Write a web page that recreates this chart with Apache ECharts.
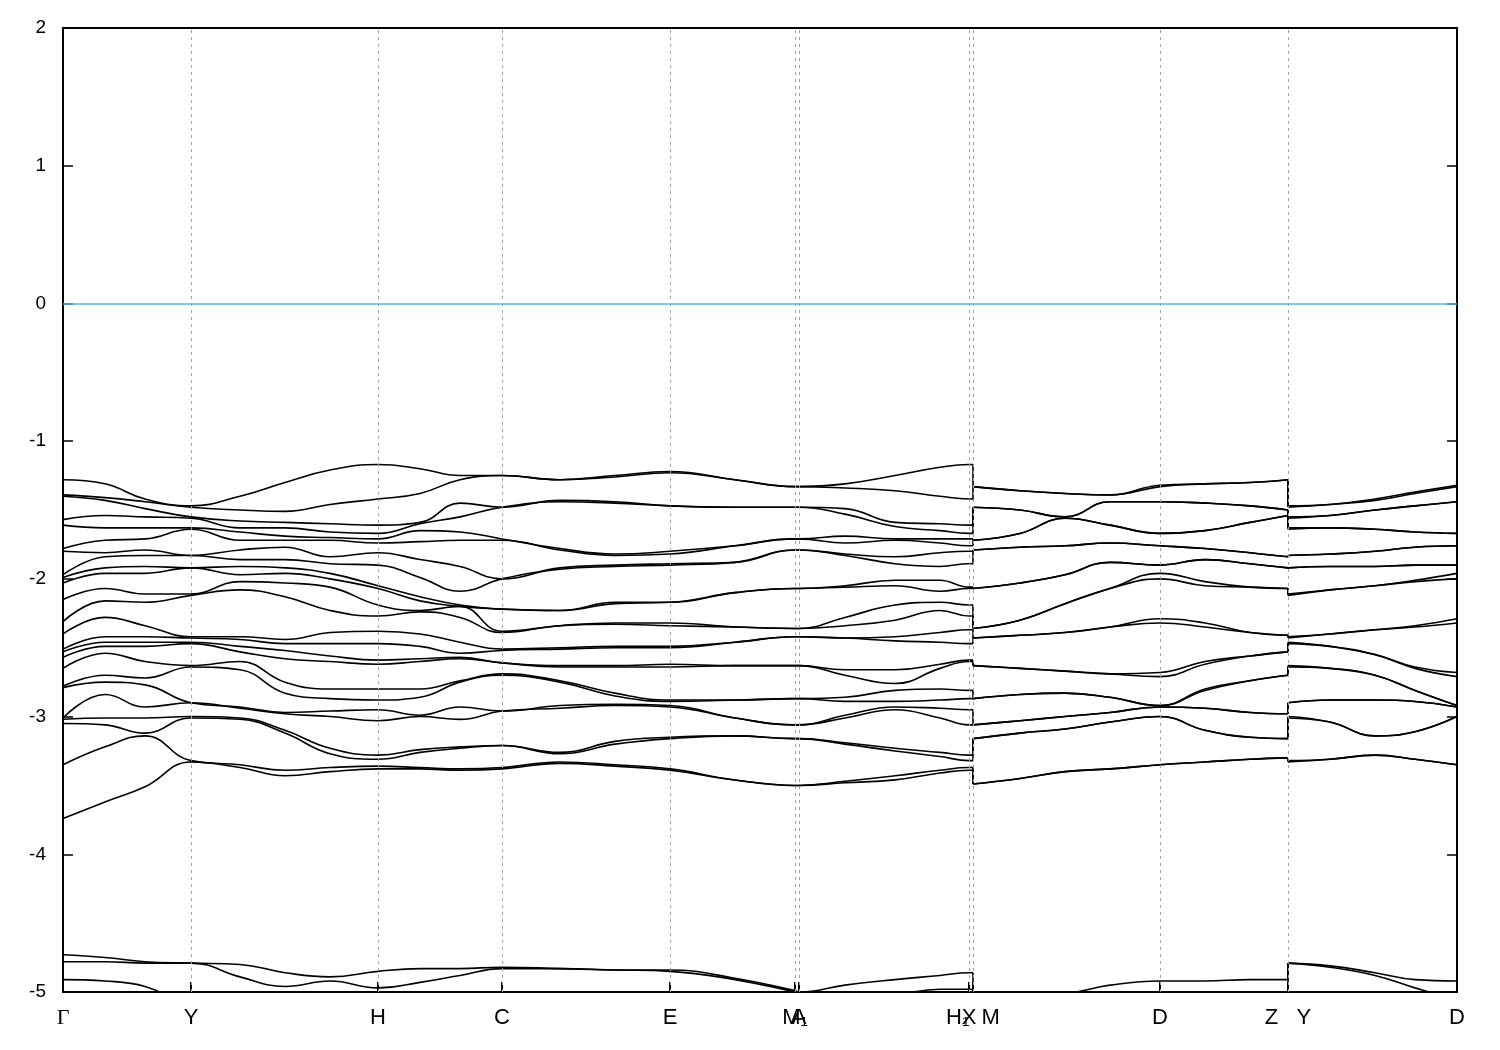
<!DOCTYPE html>
<html><head><meta charset="utf-8">
<script src="https://cdn.jsdelivr.net/npm/echarts@6/dist/echarts.min.js"></script>
<style>html,body{margin:0;padding:0;background:#fff}#chart{width:1500px;height:1050px}</style>
</head><body><div id="chart"></div>
<script>
// High-symmetry k-points (path distance) and their labels
const tickK = [0, 1.28, 3.15, 4.39, 6.07, 7.32, 7.36, 9.06, 9.10, 10.97, 12.25, 13.94];
const tickLabels = ['Γ', 'Y', 'H', 'C', 'E', 'M₁', 'A', 'X', 'H₁  M', 'D', 'Z   Y', 'D'];
const yTickValues = [2, 1, 0, -1, -2, -3, -4, -5];

// k sampling of the three continuous path segments
const kSeg1 = [0, 0.42, 0.82, 1.28, 1.77, 2.22, 2.67, 3.15, 3.57, 3.97, 4.39, 4.97, 5.52, 6.07, 6.72, 7.32, 7.36, 7.82, 8.32, 8.77, 9.06, 9.10];
const kSeg2 = [9.10, 9.57, 10.02, 10.47, 10.97, 11.42, 11.87, 12.25];
const kSeg3 = [12.25, 12.67, 13.12, 13.52, 13.94];

// Band energies (eV) at each sampled k (one array per k column)
const eGamma = [-1.28,-1.39,-1.40,-1.57,-1.61,-1.78,-1.80,-1.97,-1.99,-2.03,-2.15,-2.31,-2.40,-2.51,-2.53,-2.57,-2.65,-2.78,-2.79,-3.01,-3.02,-3.05,-3.35,-3.74,-4.73,-4.78,-4.91];
const eGY1 = [-1.31,-1.41,-1.43,-1.54,-1.63,-1.72,-1.81,-1.84,-1.92,-1.96,-2.07,-2.16,-2.28,-2.42,-2.46,-2.49,-2.54,-2.70,-2.75,-2.84,-3.01,-3.06,-3.22,-3.62,-4.75,-4.78,-4.92];
const eGY2 = [-1.42,-1.44,-1.49,-1.55,-1.63,-1.71,-1.79,-1.83,-1.91,-1.96,-2.11,-2.17,-2.34,-2.42,-2.46,-2.49,-2.60,-2.72,-2.77,-2.93,-3.01,-3.12,-3.14,-3.51,-4.78,-4.79,-4.96];
const eY = [-1.47,-1.48,-1.55,-1.56,-1.63,-1.64,-1.83,-1.83,-1.92,-1.92,-2.11,-2.12,-2.42,-2.43,-2.46,-2.47,-2.63,-2.64,-2.90,-2.90,-3.00,-3.01,-3.32,-3.33,-4.79,-4.79,-5.10];
const eYH1 = [-1.40,-1.50,-1.58,-1.63,-1.66,-1.72,-1.79,-1.86,-1.91,-1.97,-2.02,-2.08,-2.42,-2.44,-2.49,-2.53,-2.60,-2.66,-2.93,-2.94,-3.01,-3.02,-3.35,-3.37,-4.80,-4.89,-5.15];
const eYH2 = [-1.30,-1.51,-1.59,-1.63,-1.69,-1.72,-1.77,-1.86,-1.92,-1.96,-2.03,-2.13,-2.44,-2.47,-2.52,-2.58,-2.75,-2.83,-2.97,-2.98,-3.10,-3.12,-3.39,-3.43,-4.86,-4.96,-5.20];
const eYH3 = [-1.21,-1.46,-1.60,-1.66,-1.70,-1.72,-1.84,-1.89,-1.96,-2.00,-2.06,-2.23,-2.39,-2.47,-2.56,-2.60,-2.80,-2.87,-2.96,-3.00,-3.23,-3.27,-3.37,-3.40,-4.89,-4.92,-5.20];
const eH = [-1.17,-1.42,-1.61,-1.67,-1.71,-1.74,-1.81,-1.90,-2.05,-2.07,-2.19,-2.27,-2.38,-2.47,-2.59,-2.62,-2.80,-2.88,-2.95,-3.03,-3.28,-3.31,-3.36,-3.38,-4.85,-4.97,-5.20];
const eHC1 = [-1.20,-1.38,-1.59,-1.60,-1.65,-1.73,-1.86,-1.99,-2.13,-2.16,-2.23,-2.24,-2.40,-2.49,-2.58,-2.60,-2.80,-2.86,-2.99,-3.00,-3.24,-3.26,-3.37,-3.38,-4.83,-4.93,-5.20];
const eHC2 = [-1.25,-1.28,-1.45,-1.55,-1.66,-1.72,-1.91,-2.09,-2.19,-2.20,-2.20,-2.28,-2.46,-2.54,-2.57,-2.58,-2.74,-2.75,-2.93,-3.02,-3.22,-3.23,-3.38,-3.39,-4.83,-4.88,-5.20];
const eC = [-1.25,-1.25,-1.48,-1.48,-1.71,-1.72,-2.00,-2.00,-2.22,-2.22,-2.38,-2.39,-2.51,-2.52,-2.61,-2.61,-2.69,-2.70,-2.96,-2.96,-3.21,-3.21,-3.37,-3.38,-4.82,-4.83,-5.20];
const eCE1 = [-1.28,-1.28,-1.43,-1.44,-1.78,-1.79,-1.92,-1.93,-2.23,-2.23,-2.34,-2.34,-2.50,-2.51,-2.63,-2.64,-2.74,-2.75,-2.92,-2.94,-3.26,-3.27,-3.33,-3.34,-4.83,-4.83,-5.20];
const eCE2 = [-1.25,-1.26,-1.44,-1.45,-1.82,-1.83,-1.90,-1.91,-2.17,-2.18,-2.32,-2.33,-2.49,-2.50,-2.63,-2.64,-2.83,-2.85,-2.91,-2.92,-3.18,-3.20,-3.35,-3.36,-4.84,-4.84,-5.20];
const eE = [-1.22,-1.23,-1.47,-1.47,-1.80,-1.82,-1.89,-1.90,-2.17,-2.17,-2.32,-2.34,-2.49,-2.50,-2.62,-2.64,-2.88,-2.89,-2.92,-2.93,-3.15,-3.16,-3.38,-3.39,-4.84,-4.85,-5.20];
const eEM1 = [-1.28,-1.28,-1.48,-1.48,-1.76,-1.76,-1.88,-1.88,-2.10,-2.10,-2.35,-2.35,-2.46,-2.46,-2.63,-2.63,-2.88,-2.88,-3.01,-3.01,-3.14,-3.14,-3.46,-3.46,-4.90,-4.91,-5.20];
const eM1 = [-1.33,-1.33,-1.48,-1.48,-1.71,-1.71,-1.79,-1.79,-2.07,-2.07,-2.36,-2.36,-2.42,-2.42,-2.63,-2.63,-2.87,-2.87,-3.06,-3.06,-3.16,-3.16,-3.50,-3.50,-4.99,-5.00,-5.20];
const eA = [-1.33,-1.33,-1.48,-1.48,-1.71,-1.71,-1.79,-1.79,-2.07,-2.07,-2.36,-2.36,-2.42,-2.42,-2.63,-2.63,-2.87,-2.87,-3.06,-3.06,-3.16,-3.16,-3.50,-3.50,-5.00,-5.01,-5.20];
const eAX1 = [-1.31,-1.34,-1.49,-1.53,-1.69,-1.74,-1.82,-1.83,-2.05,-2.06,-2.28,-2.34,-2.43,-2.43,-2.66,-2.70,-2.86,-2.89,-2.99,-3.01,-3.19,-3.20,-3.47,-3.48,-4.95,-5.04,-5.20];
const eAX2 = [-1.25,-1.36,-1.59,-1.62,-1.71,-1.72,-1.84,-1.89,-2.01,-2.05,-2.19,-2.30,-2.42,-2.45,-2.66,-2.76,-2.81,-2.89,-2.93,-2.95,-3.23,-3.25,-3.43,-3.46,-4.91,-5.02,-5.20];
const eAX3 = [-1.19,-1.40,-1.60,-1.65,-1.71,-1.74,-1.81,-1.91,-2.01,-2.09,-2.17,-2.23,-2.39,-2.46,-2.62,-2.65,-2.80,-2.88,-2.94,-3.01,-3.26,-3.29,-3.39,-3.41,-4.88,-4.98,-5.20];
const eX = [-1.17,-1.42,-1.61,-1.67,-1.71,-1.76,-1.80,-1.89,-2.06,-2.07,-2.19,-2.27,-2.37,-2.47,-2.59,-2.60,-2.81,-2.87,-2.95,-3.06,-3.28,-3.32,-3.37,-3.39,-4.86,-4.98,-5.20];
const eH1 = [-1.17,-1.42,-1.61,-1.67,-1.71,-1.76,-1.80,-1.89,-2.06,-2.07,-2.19,-2.27,-2.37,-2.47,-2.59,-2.60,-2.81,-2.87,-2.95,-3.06,-3.28,-3.32,-3.37,-3.39,-4.86,-4.98,-5.20];

const eM = [-1.33,-1.33,-1.48,-1.48,-1.72,-1.72,-1.79,-1.79,-2.07,-2.07,-2.36,-2.36,-2.43,-2.43,-2.63,-2.63,-2.87,-2.87,-3.06,-3.06,-3.16,-3.16,-3.49,-3.49,-5.00,-5.05,-5.20];
const eMD1 = [-1.36,-1.36,-1.50,-1.50,-1.67,-1.67,-1.77,-1.77,-2.03,-2.03,-2.30,-2.30,-2.41,-2.41,-2.65,-2.65,-2.84,-2.84,-3.03,-3.03,-3.12,-3.12,-3.45,-3.45,-5.02,-5.08,-5.20];
const eMD2 = [-1.38,-1.38,-1.55,-1.55,-1.56,-1.56,-1.76,-1.76,-1.97,-1.97,-2.18,-2.18,-2.39,-2.39,-2.67,-2.67,-2.83,-2.83,-3.00,-3.00,-3.09,-3.09,-3.40,-3.40,-5.01,-5.08,-5.20];
const eMD3 = [-1.39,-1.39,-1.44,-1.44,-1.61,-1.61,-1.74,-1.74,-1.88,-1.88,-2.07,-2.07,-2.35,-2.35,-2.69,-2.69,-2.86,-2.86,-2.97,-2.97,-3.04,-3.04,-3.38,-3.38,-4.95,-5.08,-5.20];
const eD = [-1.32,-1.33,-1.44,-1.44,-1.67,-1.67,-1.76,-1.76,-1.90,-1.90,-1.96,-2.00,-2.29,-2.32,-2.68,-2.71,-2.92,-2.92,-2.93,-2.93,-3.00,-3.00,-3.35,-3.35,-4.92,-5.06,-5.20];
const eDZ1 = [-1.31,-1.31,-1.45,-1.45,-1.65,-1.65,-1.78,-1.78,-1.86,-1.86,-2.02,-2.05,-2.32,-2.35,-2.60,-2.62,-2.80,-2.81,-2.94,-2.94,-3.10,-3.10,-3.33,-3.33,-4.92,-5.05,-5.20];
const eDZ2 = [-1.30,-1.30,-1.47,-1.47,-1.59,-1.59,-1.81,-1.81,-1.89,-1.89,-2.06,-2.06,-2.39,-2.39,-2.56,-2.56,-2.74,-2.74,-2.97,-2.97,-3.15,-3.15,-3.31,-3.31,-4.91,-5.05,-5.20];
const eZ = [-1.28,-1.28,-1.50,-1.50,-1.54,-1.54,-1.84,-1.84,-1.92,-1.92,-2.07,-2.07,-2.41,-2.41,-2.53,-2.53,-2.70,-2.70,-2.98,-2.98,-3.16,-3.16,-3.30,-3.30,-4.91,-5.05,-5.20];

const eY2 = [-1.47,-1.48,-1.55,-1.56,-1.63,-1.64,-1.83,-1.83,-1.92,-1.92,-2.11,-2.12,-2.42,-2.43,-2.46,-2.47,-2.63,-2.64,-2.90,-2.90,-3.00,-3.01,-3.32,-3.33,-4.79,-4.79,-5.10];
const eYD1 = [-1.46,-1.46,-1.54,-1.54,-1.63,-1.63,-1.82,-1.82,-1.91,-1.91,-2.08,-2.08,-2.40,-2.40,-2.49,-2.49,-2.65,-2.65,-2.88,-2.88,-3.04,-3.04,-3.31,-3.31,-4.81,-4.82,-5.12];
const eYD2 = [-1.42,-1.43,-1.50,-1.50,-1.64,-1.64,-1.80,-1.80,-1.91,-1.91,-2.05,-2.05,-2.37,-2.37,-2.55,-2.55,-2.70,-2.70,-2.88,-2.88,-3.14,-3.14,-3.28,-3.28,-4.86,-4.88,-5.12];
const eYD3 = [-1.37,-1.38,-1.47,-1.47,-1.66,-1.66,-1.77,-1.77,-1.90,-1.90,-2.01,-2.02,-2.34,-2.35,-2.64,-2.65,-2.81,-2.81,-2.89,-2.89,-3.11,-3.11,-3.31,-3.31,-4.91,-4.97,-5.10];
const eD2 = [-1.32,-1.33,-1.44,-1.44,-1.67,-1.67,-1.76,-1.76,-1.90,-1.90,-1.96,-2.00,-2.29,-2.32,-2.68,-2.71,-2.92,-2.92,-2.93,-2.93,-3.00,-3.00,-3.35,-3.35,-4.92,-5.06,-5.20];

const fermiLevel = 0;

// ---- build chart ----
const seg1Cols = [eGamma, eGY1, eGY2, eY, eYH1, eYH2, eYH3, eH, eHC1, eHC2, eC, eCE1, eCE2, eE, eEM1, eM1, eA, eAX1, eAX2, eAX3, eX, eH1];
const seg2Cols = [eM, eMD1, eMD2, eMD3, eD, eDZ1, eDZ2, eZ];
const seg3Cols = [eY2, eYD1, eYD2, eYD3, eD2];
const srt = c => c.slice().sort((a, b) => a - b);
const segs = [[kSeg1, seg1Cols.map(srt)], [kSeg2, seg2Cols.map(srt)], [kSeg3, seg3Cols.map(srt)]];
const nBands = eGamma.length;

const lineStyle = { color: '#000', width: 1.6 };
const series = [];
// guide lines
series.push({
  type: 'line', data: [], silent: true, animation: false, z: 1,
  markLine: {
    silent: true, symbol: 'none', animation: false,
    label: { show: false },
    data: tickK.filter((k, i) => i > 0 && i < tickK.length - 1).map(k => ({ xAxis: k, lineStyle: { color: '#a0a0a0', type: [3, 4], width: 1 } }))
      .concat([{ yAxis: fermiLevel, lineStyle: { color: '#56b4e9', type: 'solid', width: 1.5 } }])
  }
});
segs.forEach(([ks, cols]) => {
  for (let b = 0; b < nBands; b++) {
    series.push({
      type: 'line', silent: true, animation: false, symbol: 'none', z: 3,
      smooth: 0.45, lineStyle,
      data: ks.map((k, j) => [k, cols[j][b]])
    });
  }
});
// jumps at path discontinuities
const jumps = [[9.10, srt(eH1), srt(eM)], [12.25, srt(eZ), srt(eY2)]];
jumps.forEach(([k, a, c]) => {
  for (let b = 0; b < nBands; b++) {
    series.push({ type: 'line', silent: true, animation: false, symbol: 'none', z: 3, lineStyle,
      data: [[k, a[b]], [k, c[b]]] });
  }
});

const sans = '"Liberation Sans", Arial, sans-serif';
const chart = echarts.init(document.getElementById('chart'), null, { renderer: 'canvas' });
chart.setOption({
  backgroundColor: '#fff',
  animation: false,
  grid: { left: 63, right: 43, top: 28, bottom: 58, containLabel: false, outerBoundsMode: 'none',
          show: true, borderColor: '#000', borderWidth: 2 },
  xAxis: {
    type: 'value', min: 0, max: 13.94,
    axisLine: { show: true, onZero: false, lineStyle: { color: '#000', width: 2 } },
    axisTick: { show: true, inside: true, length: 10, customValues: tickK, lineStyle: { color: '#000', width: 2 } },
    axisLabel: {
      customValues: tickK, margin: 15, showMinLabel: true, showMaxLabel: true,
      fontFamily: sans, fontSize: 22, color: '#000',
      rich: { g: { fontFamily: '"Liberation Serif", "DejaVu Serif", serif', fontSize: 22, color: '#000' } },
      formatter: v => {
        const i = tickK.findIndex(t => Math.abs(t - v) < 1e-6);
        if (i < 0) return '';
        return tickLabels[i] === 'Γ' ? '{g|Γ}' : tickLabels[i];
      }
    },
    splitLine: { show: false }
  },
  yAxis: [{
    type: 'value', min: -5, max: 2, interval: 1, position: 'left',
    axisLine: { show: true, onZero: false, lineStyle: { color: '#000', width: 2 } },
    axisTick: { show: true, inside: true, length: 10, lineStyle: { color: '#000', width: 1.5 } },
    axisLabel: { margin: 17, showMinLabel: true, showMaxLabel: true, fontFamily: sans, fontSize: 19, color: '#000' },
    splitLine: { show: false }
  }, {
    type: 'value', min: -5, max: 2, interval: 1, position: 'right',
    axisLine: { show: true, onZero: false, lineStyle: { color: '#000', width: 2 } },
    axisTick: { show: true, inside: true, length: 10, lineStyle: { color: '#000', width: 1.5 } },
    axisLabel: { show: false }, splitLine: { show: false }
  }],
  series
});
</script></body></html>
